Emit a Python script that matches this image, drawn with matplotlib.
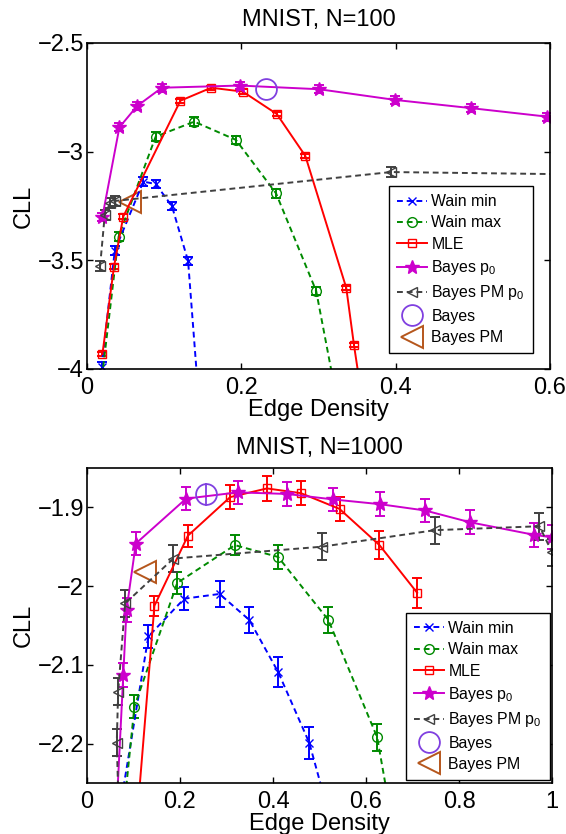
import matplotlib
matplotlib.use('Agg')
import matplotlib.pyplot as plt

plt.rcParams['font.family'] = ['Liberation Sans', 'DejaVu Sans']
plt.rcParams['mathtext.fontset'] = 'custom'
plt.rcParams['mathtext.rm'] = 'Liberation Sans'
plt.rcParams['mathtext.it'] = 'Liberation Sans:italic'
plt.rcParams['mathtext.default'] = 'regular'

labels = ['Wain min', 'Wain max', 'MLE', 'Bayes $p_0$', 'Bayes PM $p_0$', 'Bayes', 'Bayes PM']

# ---- MNIST, N=100 ----
t_wmin_x = [0.019, 0.036, 0.073, 0.089, 0.110, 0.131, 0.145]
t_wmin_y = [-3.99, -3.456, -3.138, -3.149, -3.250, -3.503, -4.15]
t_wmin_e = [0.02, 0.02, 0.02, 0.02, 0.02, 0.02, 0.0]
t_wmax_x = [0.018, 0.041, 0.089, 0.139, 0.193, 0.245, 0.297, 0.327]
t_wmax_y = [-4.08, -3.391, -2.931, -2.862, -2.946, -3.192, -3.641, -4.2]
t_wmax_e = [0.0, 0.02, 0.02, 0.02, 0.02, 0.02, 0.02, 0.0]
t_mle_x = [0.020, 0.035, 0.047, 0.121, 0.161, 0.202, 0.246, 0.283, 0.336, 0.346, 0.357]
t_mle_y = [-3.931, -3.529, -3.299, -2.766, -2.706, -2.724, -2.827, -3.020, -3.627, -3.890, -4.15]
t_mle_e = [0.01] * 10 + [0.0]
t_bp0_x = [0.020, 0.042, 0.065, 0.097, 0.198, 0.301, 0.399, 0.498, 0.596]
t_bp0_y = [-3.299, -2.888, -2.790, -2.706, -2.696, -2.713, -2.762, -2.800, -2.839]
t_bp0_e = [0.018] * 9
t_bpm_x = [0.017, 0.023, 0.030, 0.036, 0.394, 0.8]
t_bpm_y = [-3.526, -3.292, -3.236, -3.227, -3.094, -3.112]
t_bpm_e = [0.022, 0.022, 0.022, 0.022, 0.022, 0.0]
t_bayes = (0.232, -2.712, 0.0)
t_bayes_pm = (0.0557, -3.232)

# ---- MNIST, N=1000 ----
b_wmin_x = [0.052, 0.132, 0.209, 0.285, 0.349, 0.411, 0.478, 0.525]
b_wmin_y = [-2.35, -2.064, -2.016, -2.010, -2.043, -2.109, -2.199, -2.30]
b_wmin_e = [0.0, 0.015, 0.015, 0.016, 0.016, 0.019, 0.020, 0.0]
b_wmax_x = [0.068, 0.102, 0.194, 0.318, 0.411, 0.519, 0.624, 0.671]
b_wmax_y = [-2.35, -2.153, -1.996, -1.948, -1.963, -2.043, -2.192, -2.35]
b_wmax_e = [0.0, 0.015, 0.014, 0.013, 0.015, 0.016, 0.017, 0.0]
b_mle_x = [0.100, 0.145, 0.217, 0.308, 0.387, 0.460, 0.543, 0.629, 0.710]
b_mle_y = [-2.35, -2.025, -1.936, -1.887, -1.876, -1.882, -1.902, -1.948, -2.0085]
b_mle_e = [0.0, 0.013, 0.014, 0.015, 0.016, 0.015, 0.015, 0.018, 0.019]
b_bp0_x = [0.058, 0.078, 0.085, 0.105, 0.213, 0.324, 0.430, 0.530, 0.630, 0.727, 0.824, 0.962, 0.999]
b_bp0_y = [-2.35, -2.113, -2.030, -1.946, -1.889, -1.881, -1.883, -1.890, -1.896, -1.904, -1.919, -1.935, -1.938]
b_bp0_e = [0.0] + [0.015] * 12
b_bpm_x = [0.070, 0.064, 0.067, 0.082, 0.186, 0.505, 0.748, 0.973, 1.0]
b_bpm_y = [-2.32, -2.199, -2.134, -2.022, -1.965, -1.950, -1.929, -1.924, -1.957]
b_bpm_e = [0.0] + [0.017] * 8
b_bayes = (0.255, -1.8835, 0.015)
b_bayes_pm = (0.1247, -1.982)

top_xticks = [0, 0.2, 0.4, 0.6]
top_xlabels = ['0', '0.2', '0.4', '0.6']
top_yticks = [-4, -3.5, -3, -2.5]
top_ylabels = ['\u22124', '\u22123.5', '\u22123', '\u22122.5']
bot_xticks = [0, 0.2, 0.4, 0.6, 0.8, 1.0]
bot_xlabels = ['0', '0.2', '0.4', '0.6', '0.8', '1']
bot_yticks = [-2.2, -2.1, -2.0, -1.9]
bot_ylabels = ['\u22122.2', '\u22122.1', '\u22122', '\u22121.9']


def draw_panel(ax, series, bayes, bayes_pm):
    styles = [
        dict(color='#0000ff', ls=(0, (3, 2)), marker='x', ms=6, mfc='none'),
        dict(color='#008a00', ls=(0, (3, 2)), marker='o', ms=7, mfc='none'),
        dict(color='#ff0000', ls='-', marker='s', ms=6, mfc='none'),
        dict(color='#cc00cc', ls='-', marker='*', ms=10),
        dict(color='#404040', ls=(0, (3, 2)), marker='<', ms=7, mfc='none'),
    ]
    handles = []
    for (x, y, e), st in zip(series, styles):
        c = ax.errorbar(x, y, yerr=e, lw=1.4, elinewidth=1.4, capsize=3.5,
                        capthick=1.4, **st)
        handles.append(c.lines[0])
    c = ax.errorbar([bayes[0]], [bayes[1]], yerr=[bayes[2]], fmt='o',
                    color='#8040e0', ms=15, mfc='none', mew=1.3,
                    elinewidth=1.3, capsize=0)
    handles.append(c.lines[0])
    h, = ax.plot([bayes_pm[0]], [bayes_pm[1]], ls='none', marker='<',
                 color='#b5561c', ms=16, mfc='none', mew=1.4)
    handles.append(h)
    for s in ax.spines.values():
        s.set_linewidth(1.2)
    ax.tick_params(direction='in', top=True, right=True, length=4,
                   width=1.0, labelsize=17)
    ax.tick_params(axis='x', pad=6)
    ax.tick_params(axis='y', pad=2)
    return handles


def add_legend(ax, handles, anchor):
    ax.legend(handles, labels, loc='lower right', bbox_to_anchor=anchor,
              borderaxespad=0, fontsize=11.4, fancybox=False, framealpha=1,
              edgecolor='black', handlelength=1.9, handletextpad=0.25,
              labelspacing=0.4, borderpad=0.5, numpoints=1)


fig = plt.figure(figsize=(5.66, 8.34), dpi=100)
ax1 = fig.add_axes([0.1537, 0.5576, 0.818, 0.3909])
ax2 = fig.add_axes([0.1537, 0.0612, 0.8216, 0.3777])

h1 = draw_panel(ax1, [(t_wmin_x, t_wmin_y, t_wmin_e), (t_wmax_x, t_wmax_y, t_wmax_e),
                      (t_mle_x, t_mle_y, t_mle_e), (t_bp0_x, t_bp0_y, t_bp0_e),
                      (t_bpm_x, t_bpm_y, t_bpm_e)], t_bayes, t_bayes_pm)
ax1.set_xlim(0, 0.6)
ax1.set_ylim(-4, -2.5)
ax1.set_xticks(top_xticks, top_xlabels)
ax1.set_yticks(top_yticks, top_ylabels)
ax1.set_title('MNIST, N=100', fontsize=17, pad=12)
ax1.set_xlabel('Edge Density', fontsize=17, labelpad=0)
ax1.set_ylabel('CLL', fontsize=17, labelpad=2)
add_legend(ax1, h1, (0.963, 0.049))

h2 = draw_panel(ax2, [(b_wmin_x, b_wmin_y, b_wmin_e), (b_wmax_x, b_wmax_y, b_wmax_e),
                      (b_mle_x, b_mle_y, b_mle_e), (b_bp0_x, b_bp0_y, b_bp0_e),
                      (b_bpm_x, b_bpm_y, b_bpm_e)], b_bayes, b_bayes_pm)
ax2.set_xlim(0, 1)
ax2.set_ylim(-2.25, -1.85)
ax2.set_xticks(bot_xticks, bot_xlabels)
ax2.set_yticks(bot_yticks, bot_ylabels)
ax2.set_title('MNIST, N=1000', fontsize=17, pad=10)
ax2.set_xlabel('Edge Density', fontsize=17, labelpad=0)
ax2.set_ylabel('CLL', fontsize=17, labelpad=2)
add_legend(ax2, h2, (0.995, 0.01))

fig.savefig('out.png', dpi=100)
